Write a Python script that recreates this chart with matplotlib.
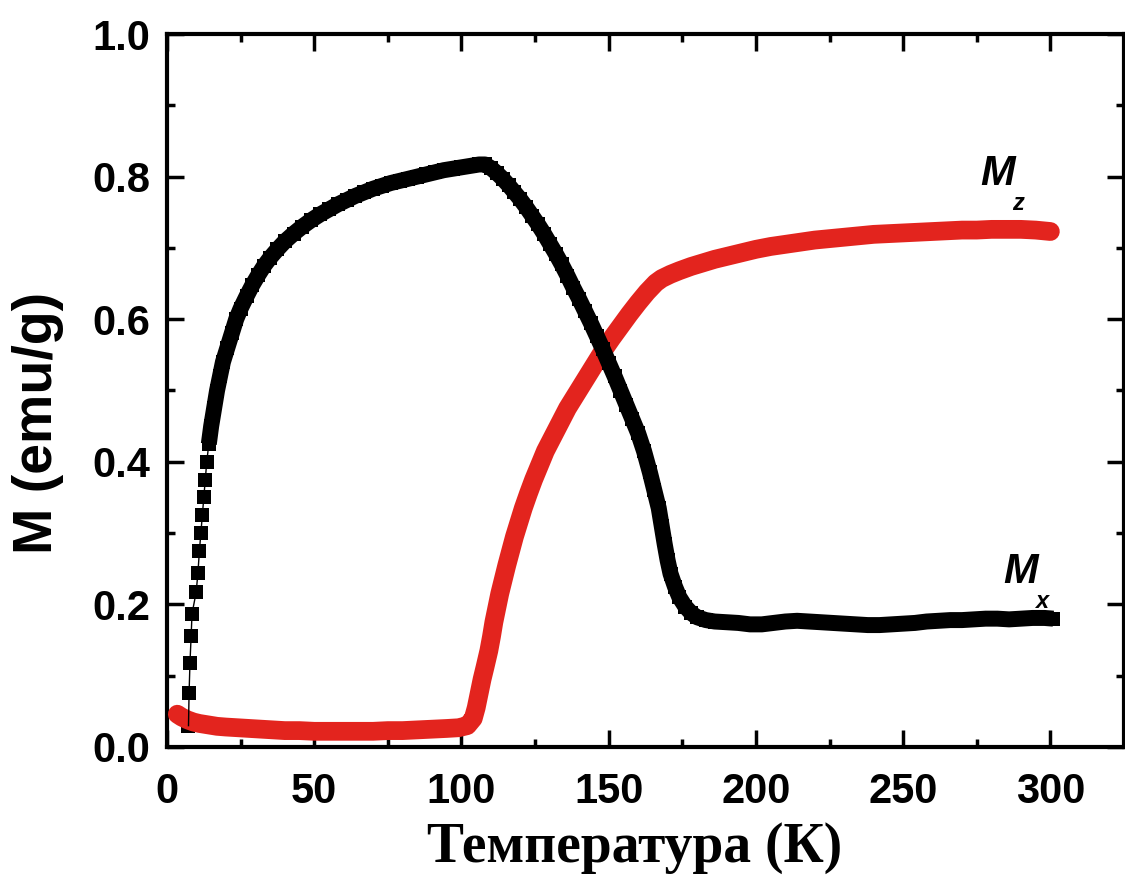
import matplotlib
matplotlib.use("Agg")
import matplotlib.pyplot as plt
from matplotlib.ticker import MultipleLocator, FormatStrFormatter

# ---- data ----
T_x = [7.3, 7.5, 7.8, 8.2, 8.5, 9.9, 10.5, 11.0, 11.5, 12.0, 12.5, 13.0, 13.5, 14.2, 15.0,
       16, 17, 18, 19, 20.5, 22, 23.5, 25, 27, 29, 31, 33, 35, 37.5, 40, 43, 46, 49, 52,
       55, 58, 61, 64, 67, 70, 73, 76, 79, 82, 85, 88, 91, 94, 97, 100, 103, 106, 108,
       110, 112, 114, 116, 118, 120, 122, 124, 126, 128, 130, 132, 134, 136, 138, 140,
       142, 144, 146, 148, 150, 152, 154, 156, 158, 160, 162, 164, 165.5, 167, 168, 169,
       170, 171, 172.5, 174, 176, 178, 180, 183, 186, 190, 194, 198, 202, 206, 210, 214,
       218, 222, 226, 230, 234, 238, 242, 246, 250, 254, 258, 262, 266, 270, 274, 278,
       282, 286, 290, 294, 298, 301]
M_x = [0.03, 0.076, 0.118, 0.156, 0.187, 0.217, 0.244, 0.275, 0.30, 0.325, 0.35, 0.375, 0.40,
       0.425, 0.45, 0.475, 0.50, 0.52, 0.54, 0.56, 0.58, 0.60, 0.615, 0.632, 0.648, 0.662,
       0.675, 0.686, 0.698, 0.709, 0.72, 0.73, 0.739, 0.747, 0.754, 0.761, 0.767, 0.773,
       0.778, 0.783, 0.787, 0.791, 0.794, 0.797, 0.800, 0.803, 0.806, 0.809, 0.811, 0.813,
       0.815, 0.817, 0.817, 0.812, 0.805, 0.797, 0.788, 0.778, 0.768, 0.757, 0.745, 0.733,
       0.72, 0.706, 0.692, 0.677, 0.661, 0.644, 0.628, 0.611, 0.594, 0.576, 0.558, 0.539,
       0.52, 0.50, 0.48, 0.46, 0.44, 0.415, 0.385, 0.36, 0.335, 0.31, 0.285, 0.262, 0.243,
       0.225, 0.21, 0.197, 0.188, 0.182, 0.178, 0.176, 0.175, 0.174, 0.172, 0.172, 0.174,
       0.176, 0.177, 0.176, 0.175, 0.174, 0.173, 0.172, 0.171, 0.171, 0.172, 0.173, 0.174,
       0.176, 0.177, 0.178, 0.178, 0.179, 0.18, 0.18, 0.179, 0.18, 0.181, 0.181, 0.18]

T_z = [3.5, 5, 7, 9, 11, 14, 17, 20, 24, 28, 32, 36, 40, 45, 50, 55, 60, 65, 70, 75, 80, 85,
       90, 95, 99, 102, 104, 105, 106, 107, 108, 109.3, 110.2, 111, 112, 113, 114.2, 115.4,
       116.7, 118, 119.5, 121, 122.7, 124.5, 126.5, 128.5, 131, 133.5, 136, 139, 142, 145,
       148, 151, 154, 157, 160, 163, 166, 168, 171, 174, 178, 182, 186, 190, 195, 200, 205,
       210, 215, 220, 225, 230, 235, 240, 245, 250, 255, 260, 265, 270, 275, 280, 285, 290,
       295, 300]
M_z = [0.046, 0.042, 0.038, 0.035, 0.033, 0.031, 0.029, 0.028, 0.027, 0.026, 0.025, 0.024,
       0.023, 0.023, 0.022, 0.022, 0.022, 0.022, 0.022, 0.023, 0.023, 0.024, 0.025, 0.026,
       0.027, 0.030, 0.040, 0.055, 0.075, 0.095, 0.112, 0.135, 0.155, 0.175, 0.195, 0.215,
       0.235, 0.255, 0.275, 0.295, 0.315, 0.335, 0.355, 0.375, 0.395, 0.415, 0.435, 0.455,
       0.475, 0.495, 0.515, 0.535, 0.555, 0.573, 0.59, 0.607, 0.623, 0.638, 0.651, 0.657,
       0.663, 0.668, 0.674, 0.679, 0.684, 0.688, 0.693, 0.698, 0.702, 0.705, 0.708, 0.711,
       0.713, 0.715, 0.717, 0.719, 0.72, 0.721, 0.722, 0.723, 0.724, 0.725, 0.725, 0.726,
       0.726, 0.726, 0.725, 0.723]

x_ticks = [0, 50, 100, 150, 200, 250, 300]
y_ticks = [0.0, 0.2, 0.4, 0.6, 0.8, 1.0]
x_label = "Температура (К)"
y_label = "M (emu/g)"

# ---- figure ----
fig = plt.figure(figsize=(11.25, 8.76), dpi=100)
ax = fig.add_axes([167/1125, 1 - 747/876, (1124 - 167)/1125, (747 - 34)/876])

red = "#e3241e"
# sparse start of the black curve: separate squares
ax.plot(T_x, M_x, linestyle="none", marker="s", markersize=10.5, color="black",
        markeredgewidth=0, zorder=2)
ax.plot(T_z, M_z, linestyle="-", linewidth=13.5, color=red, solid_capstyle="round",
        solid_joinstyle="round", zorder=3)
# dense part of the black curve (points overlap into a band)
dense = [i for i, t in enumerate(T_x) if t >= 14]
ax.plot([T_x[i] for i in dense], [M_x[i] for i in dense], linestyle="-", linewidth=11.5,
        color="black", solid_capstyle="butt", solid_joinstyle="round", zorder=4)
ax.plot([T_x[i] for i in dense], [M_x[i] for i in dense], linestyle="none", marker="s",
        markersize=10.5, color="black", markeredgewidth=0, zorder=4)
ax.plot(T_x, M_x, linestyle="-", linewidth=1, color="black", zorder=5)

ax.set_xlim(0, 325)
ax.set_ylim(0, 1.0)
ax.set_xticks(x_ticks)
ax.set_yticks(y_ticks)
ax.xaxis.set_minor_locator(MultipleLocator(25))
ax.yaxis.set_minor_locator(MultipleLocator(0.1))
ax.yaxis.set_major_formatter(FormatStrFormatter("%.1f"))

for s in ax.spines.values():
    s.set_linewidth(3)
ax.tick_params(which="both", direction="in", top=True, right=True, width=2.5)
ax.tick_params(which="major", length=12)
ax.tick_params(which="minor", length=6)
ax.tick_params(axis="y", which="major", pad=12)
ax.tick_params(axis="x", which="major", pad=18)
for lab in ax.get_xticklabels() + ax.get_yticklabels():
    lab.set_fontfamily("Liberation Sans")
    lab.set_fontweight("bold")
    lab.set_fontsize(30)

ax.set_ylabel(y_label, fontfamily="Liberation Sans", fontweight="bold", fontsize=40)
ax.yaxis.set_label_coords(-0.108, 0.455)
ax.set_xlabel(x_label, fontfamily="Liberation Serif", fontweight="bold", fontsize=40)
ax.xaxis.set_label_coords(0.489, -0.105)

# curve labels
ax.text(282, 0.804, "M", fontfamily="Liberation Sans", fontweight="bold", style="italic",
        fontsize=30, ha="center", va="center")
ax.text(289, 0.762, "z", fontfamily="Liberation Sans", fontweight="bold", style="italic",
        fontsize=17, ha="center", va="center")
ax.text(290, 0.245, "M", fontfamily="Liberation Sans", fontweight="bold", style="italic",
        fontsize=30, ha="center", va="center")
ax.text(297, 0.204, "x", fontfamily="Liberation Sans", fontweight="bold", style="italic",
        fontsize=17, ha="center", va="center")

fig.savefig("out.png", dpi=100)
